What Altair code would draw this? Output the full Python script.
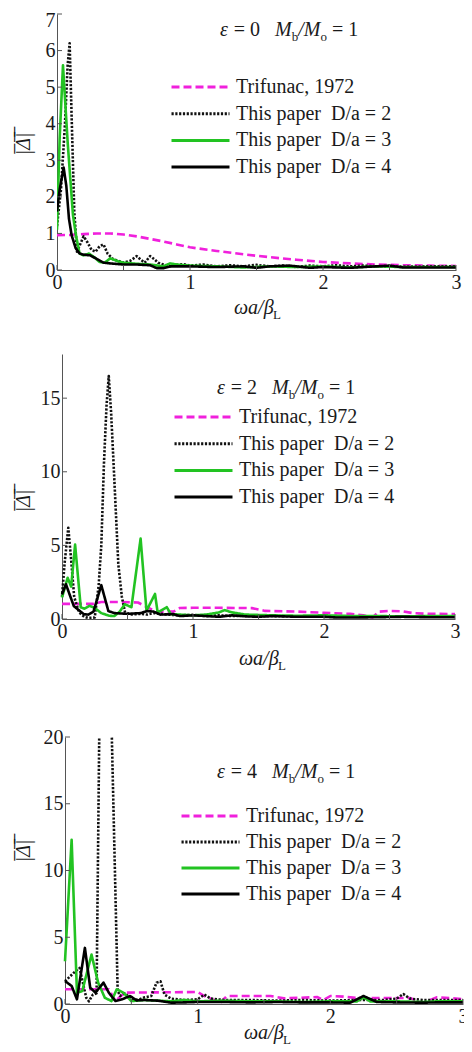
import altair as alt
import pandas as pd

SERIES = ["Trifunac, 1972", "This paper\u00a0\u00a0D/a = 2", "This paper\u00a0\u00a0D/a = 3", "This paper\u00a0\u00a0D/a = 4"]
COLORS = ["#F020DC", "#111111", "#22C322", "#000000"]
DASHES = [[8, 4], [2.2, 1.6], [1, 0], [1, 0]]

X_TICKS = [0, 0.5, 1, 1.5, 2, 2.5, 3]
X_LABELS = [0, 1, 2, 3]

# ---------------- panel 1 : eps = 0 ----------------
P1_T_X = [0, 0.1, 0.2, 0.3, 0.4, 0.5, 0.6, 0.7, 0.8, 0.9, 1.0, 1.2, 1.4, 1.6, 1.8, 2.0, 2.2, 2.4, 2.6, 2.8, 3.0]
P1_T_Y = [0.95, 0.96, 0.98, 1.0, 1.0, 0.97, 0.92, 0.85, 0.78, 0.7, 0.62, 0.52, 0.43, 0.35, 0.28, 0.22, 0.18, 0.15, 0.13, 0.12, 0.11]
P1_D2_X = [0, 0.03, 0.06, 0.08, 0.095, 0.11, 0.13, 0.15, 0.18, 0.2, 0.23, 0.26, 0.29, 0.32, 0.35, 0.38, 0.42, 0.46, 0.5, 0.55, 0.6, 0.63, 0.66, 0.7, 0.73, 0.76, 0.8, 0.85, 0.9, 0.95, 1.0, 1.1, 1.2, 1.3, 1.4, 1.5, 1.6, 1.7, 1.8, 1.9, 2.0, 2.1, 2.2, 2.3, 2.4, 2.5, 2.6, 2.8, 3.0]
P1_D2_Y = [1.2, 2.2, 4.0, 5.6, 6.2, 4.2, 1.6, 0.5, 0.75, 0.92, 0.75, 0.55, 0.5, 0.65, 0.7, 0.45, 0.3, 0.25, 0.2, 0.25, 0.38, 0.28, 0.2, 0.38, 0.3, 0.2, 0.15, 0.1, 0.14, 0.16, 0.12, 0.15, 0.1, 0.13, 0.1, 0.14, 0.1, 0.12, 0.08, 0.12, 0.1, 0.13, 0.1, 0.12, 0.1, 0.1, 0.09, 0.1, 0.1]
P1_D3_X = [0, 0.02, 0.045, 0.08, 0.12, 0.145, 0.17, 0.2, 0.24, 0.28, 0.32, 0.36, 0.4, 0.45, 0.5, 0.6, 0.7, 0.8, 0.85, 0.9, 1.0, 1.2, 1.4, 1.6, 1.8, 2.0, 2.2, 2.4, 2.6, 2.8, 3.0]
P1_D3_Y = [1.1, 3.6, 5.6, 3.5, 1.5, 0.9, 0.45, 0.4, 0.45, 0.35, 0.22, 0.2, 0.32, 0.25, 0.2, 0.17, 0.15, 0.1, 0.18, 0.15, 0.12, 0.1, 0.07, 0.1, 0.08, 0.1, 0.07, 0.1, 0.08, 0.08, 0.08]
P1_D4_X = [0, 0.02, 0.05, 0.07, 0.09, 0.11, 0.14, 0.17, 0.2, 0.25, 0.3, 0.35, 0.4, 0.5, 0.6, 0.7, 0.75, 0.8, 0.85, 0.9, 1.0, 1.2, 1.4, 1.5, 1.6, 1.75, 1.9, 2.0, 2.2, 2.4, 2.5, 2.6, 2.8, 3.0]
P1_D4_Y = [1.6, 2.2, 2.8, 2.3, 1.4, 0.95, 0.6, 0.45, 0.42, 0.4, 0.3, 0.2, 0.18, 0.15, 0.15, 0.13, 0.05, 0.05, 0.1, 0.1, 0.1, 0.08, 0.1, 0.06, 0.1, 0.12, 0.06, 0.08, 0.06, 0.1, 0.12, 0.07, 0.07, 0.07]
P1_Y_TICKS = [0, 1, 2, 3, 4, 5, 6, 7]

# ---------------- panel 2 : eps = 2 ----------------
P2_T_X = [0, 0.24, 0.3, 0.45, 0.58, 0.65, 0.72, 0.85, 0.9, 1.0, 1.2, 1.45, 1.55, 1.8, 2.0, 2.2, 2.3, 2.37, 2.42, 2.5, 2.6, 2.68, 2.8, 3.0]
P2_T_Y = [1.03, 1.03, 1.15, 1.15, 1.12, 0.8, 0.5, 0.5, 0.75, 0.76, 0.76, 0.74, 0.55, 0.5, 0.42, 0.35, 0.25, 0.1, 0.5, 0.55, 0.52, 0.4, 0.35, 0.34]
P2_D2_X = [0, 0.02, 0.048, 0.07, 0.093, 0.13, 0.17, 0.2, 0.25, 0.28, 0.3, 0.32, 0.34, 0.357, 0.375, 0.394, 0.43, 0.457, 0.48, 0.52, 0.6, 0.65, 0.7, 0.8, 0.9, 1.0, 1.1, 1.2, 1.3, 1.4, 1.5, 1.6, 1.8, 2.0, 2.2, 2.4, 2.6, 2.8, 3.0]
P2_D2_Y = [1.5, 3.8, 6.2, 4.0, 1.5, 0.45, 0.15, 0.07, 0.1, 2.3, 5.0, 10.5, 14.5, 16.5, 14.0, 10.5, 3.7, 1.5, 0.5, 0.3, 0.35, 0.3, 0.4, 0.3, 0.25, 0.28, 0.2, 0.25, 0.2, 0.22, 0.18, 0.2, 0.18, 0.15, 0.15, 0.15, 0.15, 0.15, 0.15]
P2_D3_X = [0, 0.043, 0.07, 0.1, 0.143, 0.17, 0.21, 0.25, 0.3, 0.36, 0.4, 0.44, 0.48, 0.53, 0.6, 0.645, 0.71, 0.73, 0.8, 0.83, 0.9, 1.0, 1.1, 1.2, 1.24, 1.3, 1.4, 1.6, 1.8, 2.0, 2.2, 2.4, 2.6, 2.8, 3.0]
P2_D3_Y = [1.46, 2.8, 2.2, 5.06, 0.8, 0.7, 0.9, 0.75, 0.4, 0.22, 0.2, 0.5, 1.0, 0.8, 5.46, 0.56, 1.7, 0.45, 0.8, 0.34, 0.3, 0.25, 0.3, 0.45, 0.6, 0.45, 0.3, 0.25, 0.22, 0.25, 0.2, 0.2, 0.18, 0.2, 0.2]
P2_D4_X = [0, 0.03, 0.09, 0.166, 0.2, 0.24, 0.3, 0.354, 0.4, 0.5, 0.6, 0.65, 0.7, 0.75, 0.85, 0.9, 1.0, 1.1, 1.2, 1.3, 1.4, 1.5, 1.6, 1.8, 2.0, 2.1, 2.2, 2.4, 2.6, 2.8, 3.0]
P2_D4_Y = [1.67, 2.36, 0.88, 0.33, 0.3, 0.5, 2.3, 0.54, 0.4, 0.35, 0.4, 0.54, 0.5, 0.3, 0.33, 0.2, 0.25, 0.2, 0.15, 0.25, 0.18, 0.15, 0.2, 0.15, 0.15, 0.1, 0.1, 0.12, 0.15, 0.12, 0.12]
P2_Y_TICKS = [0, 5, 10, 15]

# ---------------- panel 3 : eps = 4 ----------------
P3_T_X = [0, 0.33, 0.38, 0.45, 1.0, 1.05, 1.17, 1.22, 1.55, 1.65, 1.9, 1.95, 2.0, 2.1, 2.2, 2.6, 2.7, 2.8, 3.0]
P3_T_Y = [1.1, 1.1, 0.22, 0.85, 0.9, 0.6, 0.1, 0.6, 0.6, 0.42, 0.52, 0.3, 0.6, 0.55, 0.45, 0.45, 0.05, 0.5, 0.37]
P3_D2_X = [0, 0.08, 0.11, 0.16, 0.18, 0.21, 0.238, 0.2875, 0.397, 0.415, 0.45, 0.5, 0.55, 0.6, 0.65, 0.69, 0.72, 0.75, 0.8, 0.9, 1.0, 1.05, 1.1, 1.2, 1.4, 1.6, 1.8, 2.0, 2.2, 2.4, 2.5, 2.55, 2.6, 2.7, 2.8, 3.0]
P3_D2_Y = [1.7, 2.47, 2.7, 0.47, 0.2, 0.7, 0.8, 48.3, 1.0, 0.6, 0.8, 0.4, 0.3, 0.5, 0.6, 1.6, 1.7, 0.7, 0.4, 0.3, 0.35, 0.7, 0.4, 0.3, 0.3, 0.25, 0.3, 0.25, 0.3, 0.3, 0.4, 0.75, 0.4, 0.3, 0.3, 0.3]
P3_D3_X = [0, 0.05, 0.09, 0.13, 0.2, 0.25, 0.3, 0.35, 0.39, 0.44, 0.5, 0.6, 0.7, 0.8, 0.9, 1.0, 1.2, 1.4, 1.6, 1.8, 2.0, 2.2, 2.25, 2.3, 2.5, 2.7, 2.8, 3.0]
P3_D3_Y = [3.2, 12.3, 0.85, 0.97, 3.7, 1.6, 0.47, 0.22, 1.1, 0.85, 0.22, 0.3, 0.25, 0.2, 0.3, 0.2, 0.25, 0.2, 0.2, 0.15, 0.2, 0.2, 0.5, 0.2, 0.2, 0.15, 0.2, 0.2]
P3_D4_X = [0, 0.05, 0.09, 0.15, 0.19, 0.23, 0.29, 0.33, 0.38, 0.43, 0.49, 0.54, 0.6, 0.7, 0.8, 0.9, 1.0, 1.2, 1.4, 1.6, 1.8, 2.0, 2.15, 2.25, 2.35, 2.5, 2.7, 2.8, 3.0]
P3_D4_Y = [1.72, 1.35, 0.35, 4.2, 1.22, 0.85, 1.6, 0.85, 0.22, 0.35, 0.6, 0.27, 0.3, 0.25, 0.1, 0.12, 0.15, 0.15, 0.12, 0.15, 0.12, 0.12, 0.1, 0.6, 0.15, 0.12, 0.1, 0.12, 0.12]
P3_Y_TICKS = [0, 5, 10, 15, 20]

SERIF = "Liberation Serif"
TXT = "#1a1a1a"
AX = "#555555"
GROUP_W = 406

REG = {" ": 0.25, "=": 0.564, "0": 0.5, "1": 0.5, "2": 0.5, "4": 0.5, "b": 0.5, "o": 0.5, "L": 0.611}
ITA = {"ε": 0.44, "M": 0.833, "/": 0.278, "ω": 0.67, "a": 0.5, "β": 0.5}


def tw(s, italic, size):
    tab = ITA if italic else REG
    return sum(tab.get(c, 0.5) for c in s) * size


def rich(pieces, x0, y0):
    layers = []
    x = x0
    for text, italic, size, dy in pieces:
        lead = len(text) - len(text.lstrip(" "))
        shown = text.strip(" ")
        if shown:
            layers.append(
                alt.Chart(pd.DataFrame({"t": [shown]}))
                .mark_text(align="left", baseline="alphabetic", font=SERIF, fontSize=size,
                           fontStyle="italic" if italic else "normal", color=TXT)
                .encode(x=alt.value(x + lead * 0.25 * size), y=alt.value(y0 + dy), text="t:N")
            )
        x += tw(text, italic, size)
    return layers


def panel(xs, ys, ymax, yticks, off, W, H, eps, leg, ann_xy, xt_xy, yt_xy, top_label_shift=0):
    rows = []
    for name, sx, sy in zip(SERIES, xs, ys):
        for a, b in zip(sx, sy):
            rows.append({"x": a, "y": b, "s": name})
    df = pd.DataFrame(rows)
    X = alt.X("x:Q", scale=alt.Scale(domain=[0, 3], nice=False, zero=False, range=[off, off + W]),
              axis=alt.Axis(values=X_LABELS, ticks=False, grid=False, title=None, labelFont=SERIF,
                            labelFontSize=20, labelColor=TXT, domainColor=AX, labelPadding=2,
                            labelFlush=False, format="d"))
    y_label_offset = {"condition": {"test": "datum.value >= %g" % ymax, "value": top_label_shift},
                      "value": 0}
    Y = alt.Y("y:Q", scale=alt.Scale(domain=[0, ymax], nice=False),
              axis=alt.Axis(values=yticks, ticks=False, grid=False, title=None, labelFont=SERIF,
                            labelFontSize=20, labelColor=TXT, domainColor=AX, labelPadding=2,
                            labelFlush=False, format="d", offset=-off, labelOffset=y_label_offset))
    lg = alt.Legend(orient="none", legendX=leg[0], legendY=leg[1], title=None,
                    symbolType="stroke", symbolSize=3364, symbolStrokeWidth=3,
                    labelFont=SERIF, labelFontSize=20, labelColor=TXT, labelOffset=5,
                    clipHeight=20, rowPadding=leg[2], padding=0, labelLimit=400)
    lines = alt.Chart(df).mark_line(strokeWidth=2.6, clip=True, strokeJoin="round").encode(
        x=X, y=Y,
        color=alt.Color("s:N", scale=alt.Scale(domain=SERIES, range=COLORS), legend=lg),
        strokeDash=alt.StrokeDash("s:N", scale=alt.Scale(domain=SERIES, range=DASHES), legend=lg),
    )
    xtick = alt.Chart(pd.DataFrame({"x": X_TICKS})).mark_rule(color=AX, strokeWidth=1).encode(
        x=X, y=alt.value(H), y2=alt.value(H - 5))
    ytick = alt.Chart(pd.DataFrame({"y": yticks})).mark_rule(color=AX, strokeWidth=1).encode(
        y=Y, x=alt.value(off), x2=alt.value(off + 5))
    ann = rich([("ε", True, 20, 0), (" = %d   " % eps, False, 20, 0), ("M", True, 20, 0),
                ("b", False, 13, 5), ("/M", True, 20, 0), ("o", False, 13, 5), (" = 1", False, 20, 0)],
               ann_xy[0], ann_xy[1])
    xtitle = rich([("ωa/β", True, 20, 0), ("L", False, 13, 5)], xt_xy[0], H + xt_xy[1])
    ytitle = alt.Chart(pd.DataFrame({"t": ["|\u0305\u0394\u0305|\u0305"]})).mark_text(
        angle=270, align="center", baseline="middle", font=SERIF, fontSize=20,
        fontStyle="italic", color=TXT).encode(x=alt.value(yt_xy[0]), y=alt.value(yt_xy[1]), text="t:N")
    return alt.layer(lines, xtick, ytick, *ann, *xtitle, ytitle).properties(width=GROUP_W, height=H)


def vspace(h):
    return alt.Chart(pd.DataFrame({"a": [0]})).mark_point(opacity=0).properties(width=1, height=h)


p1 = panel([P1_T_X, P1_D2_X, P1_D3_X, P1_D4_X], [P1_T_Y, P1_D2_Y, P1_D3_Y, P1_D4_Y], 7, P1_Y_TICKS,
           0, 399, 256, 0, (113, 63, 6.7), (163, 22), (177, 44), (-33, 130), top_label_shift=6)
p2 = panel([P2_T_X, P2_D2_X, P2_D3_X, P2_D4_X], [P2_T_Y, P2_D2_Y, P2_D3_Y, P2_D4_Y], 18, P2_Y_TICKS,
           5, 393, 265, 2, (116, 53, 6.7), (160, 40), (182, 46), (-33, 147))
p3 = panel([P3_T_X, P3_D2_X, P3_D3_X, P3_D4_X], [P3_T_Y, P3_D2_Y, P3_D3_Y, P3_D4_Y], 20, P3_Y_TICKS,
           8, 398, 267, 4, (123, 69, 6.0), (160, 41), (187, 35), (-33, 114))

RS = dict(color="independent", strokeDash="independent")

chart = alt.vconcat(p1, vspace(84), p2, vspace(118), p3, spacing=0, bounds="flush")
chart = chart.resolve_scale(**RS).resolve_legend(**RS)
chart = chart.properties(padding={"left": 6, "top": 2, "right": -4, "bottom": 2},
                         background="white").configure_view(stroke=None)

chart.save("out.html", embed_options={"renderer": "svg", "actions": False})
